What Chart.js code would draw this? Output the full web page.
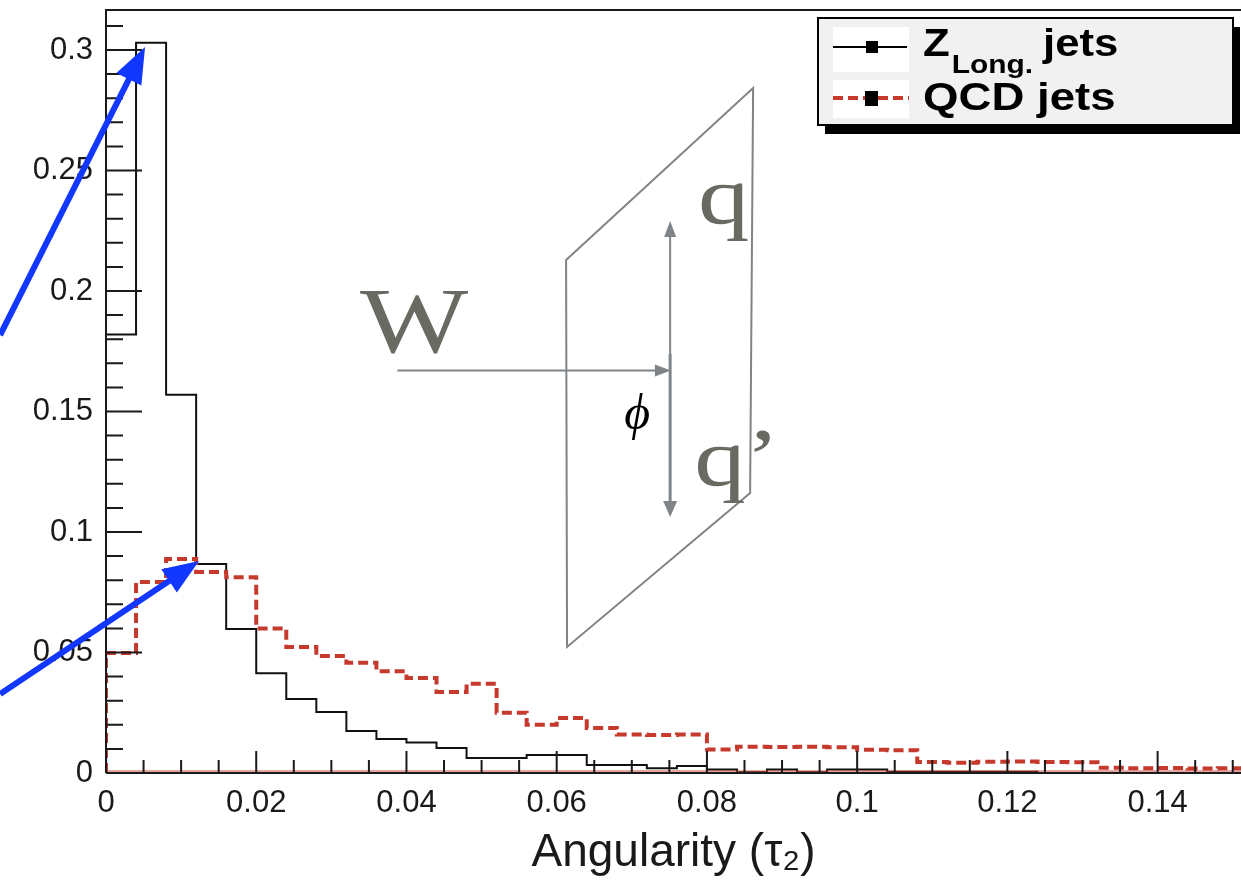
<!DOCTYPE html>
<html>
<head>
<meta charset="utf-8">
<title>Angularity tau2</title>
<script src="https://cdn.jsdelivr.net/npm/chart.js@4.4.1/dist/chart.umd.min.js"></script>
<style>
  body { margin: 0; background: #fff; }
  #wrap { width: 1241px; height: 883px; }
</style>
</head>
<body>
<div id="wrap"><canvas id="tauChart" width="1241" height="883"></canvas></div>
<script>
// histogram bins start at 0, each 0.004 wide
const binWidth = 0.004;

const zLongJets = [
  0.182, 0.303, 0.157, 0.0867, 0.0598, 0.0414, 0.0307, 0.0253, 0.0174, 0.0141,
  0.0127, 0.0104, 0.0062, 0.0062, 0.0075, 0.0075, 0.0033, 0.0033, 0.0020, 0.0029,
  0.0015, 0.0003, 0.0015, 0.0003, 0.0015, 0.0015, 0.0005, 0.0005, 0.0005, 0.0005,
  0.0005, 0, 0, 0, 0, 0, 0, 0
];

const qcdJets = [
  0.0498, 0.0793, 0.0888, 0.0834, 0.0812, 0.0600, 0.0523, 0.0485, 0.0457, 0.0422,
  0.0394, 0.0336, 0.0370, 0.0250, 0.0200, 0.0228, 0.0187, 0.0160, 0.0158, 0.0160,
  0.0097, 0.0109, 0.0108, 0.0109, 0.0107, 0.0096, 0.0094, 0.0046, 0.0043, 0.0047,
  0.0048, 0.0046, 0.0045, 0.0022, 0.0020, 0.0021, 0.0019, 0.0020
];

const xTickValues = [0, 0.02, 0.04, 0.06, 0.08, 0.1, 0.12, 0.14];
const xTickLabels = ["0", "0.02", "0.04", "0.06", "0.08", "0.1", "0.12", "0.14"];
const yTickValues = [0, 0.05, 0.1, 0.15, 0.2, 0.25, 0.3];
const yTickLabels = ["0", "0.05", "0.1", "0.15", "0.2", "0.25", "0.3"];

const xTitle = "Angularity (τ₂)";

const RED = "#c63a2e";
const GRAY = "#7f8488";
const TEXT_GRAY = "#6a6a63";
const BLUE = "#1238ff";

// points at bin edges, drawn as a step line
function toSteps(values) {
  const pts = [{ x: 0, y: 0 }];
  values.forEach((v, i) => pts.push({ x: i * binWidth, y: v }));
  pts.push({ x: values.length * binWidth, y: values[values.length - 1] });
  return pts;
}

// sketch of the W -> q q' decay plane, in data coordinates
const plane = [[0.06125, 0.2129], [0.08615, 0.2842], [0.08575, 0.1162], [0.06138, 0.0523]];
const wArrow = { x0: 0.0388, x1: 0.0752, y: 0.1670 };
const qArrow = { x: 0.0751, yTop: 0.2290, yBottom: 0.1062, yThick: 0.1739 };
// blue pointers to the two peaks
const pointers = [
  { x0: -0.0141, y0: 0.1817, x1: 0.0052, y1: 0.3012 },
  { x0: -0.0141, y0: 0.0328, x1: 0.01238, y1: 0.0880 }
];

function arrowHead(ctx, x0, y0, x1, y1, len, half) {
  const a = Math.atan2(y1 - y0, x1 - x0);
  const c = Math.cos(a), s = Math.sin(a);
  ctx.beginPath();
  ctx.moveTo(x1, y1);
  ctx.lineTo(x1 - len * c + half * s, y1 - len * s - half * c);
  ctx.lineTo(x1 - len * c - half * s, y1 - len * s + half * c);
  ctx.closePath();
  ctx.fill();
}

function arrow(ctx, x0, y0, x1, y1, width, len, half, color) {
  const a = Math.atan2(y1 - y0, x1 - x0);
  ctx.strokeStyle = color;
  ctx.fillStyle = color;
  ctx.lineWidth = width;
  ctx.beginPath();
  ctx.moveTo(x0, y0);
  ctx.lineTo(x1 - len * 0.7 * Math.cos(a), y1 - len * 0.7 * Math.sin(a));
  ctx.stroke();
  arrowHead(ctx, x0, y0, x1, y1, len, half);
}

function scaledText(ctx, text, x, y, sx) {
  ctx.save();
  ctx.translate(x, y);
  ctx.scale(sx, 1);
  ctx.fillText(text, 0, 0);
  const w = ctx.measureText(text).width * sx;
  ctx.restore();
  return w;
}

const rootStyle = {
  id: "rootStyle",
  afterDatasetsDraw(chart) {
    const ctx = chart.ctx;
    const { left, top, right, bottom } = chart.chartArea;
    const xs = chart.scales.x, ys = chart.scales.y;
    ctx.save();
    // faint red line of the empty QCD bins along the axis
    ctx.strokeStyle = "rgba(198,58,46,0.45)";
    ctx.lineWidth = 2;
    ctx.beginPath();
    ctx.moveTo(left, bottom - 2);
    ctx.lineTo(right, bottom - 2);
    ctx.stroke();

    ctx.strokeStyle = "#1a1a1a";
    ctx.lineWidth = 2;
    ctx.beginPath();
    ctx.moveTo(left, bottom);
    ctx.lineTo(left, top);
    ctx.lineTo(right, top);
    ctx.moveTo(left, bottom);
    ctx.lineTo(right, bottom);
    ctx.stroke();

    // inward ticks, major and minor
    ctx.beginPath();
    for (let k = 0; k * 0.01 <= ys.max + 1e-9; k++) {
      const p = ys.getPixelForValue(k * 0.01);
      const len = k % 5 === 0 ? 36 : 17;
      ctx.moveTo(left, p);
      ctx.lineTo(left + len, p);
    }
    for (let k = 1; k * 0.005 <= xs.max + 1e-9; k++) {
      const p = xs.getPixelForValue(k * 0.005);
      const len = k % 4 === 0 ? 22 : 13;
      ctx.moveTo(p, bottom);
      ctx.lineTo(p, bottom - len);
    }
    ctx.stroke();
    ctx.restore();
  },
  afterDraw(chart) {
    const ctx = chart.ctx;
    const X = v => chart.scales.x.getPixelForValue(v);
    const Y = v => chart.scales.y.getPixelForValue(v);
    const area = chart.chartArea;
    ctx.save();

    // decay plane
    ctx.strokeStyle = GRAY;
    ctx.lineWidth = 2;
    ctx.beginPath();
    plane.forEach((c, i) => {
      if (i === 0) ctx.moveTo(X(c[0]), Y(c[1]));
      else ctx.lineTo(X(c[0]), Y(c[1]));
    });
    ctx.closePath();
    ctx.stroke();

    arrow(ctx, X(wArrow.x0), Y(wArrow.y), X(wArrow.x1), Y(wArrow.y), 2, 16, 6, GRAY);
    arrow(ctx, X(qArrow.x), Y(qArrow.yThick), X(qArrow.x), Y(qArrow.yTop), 2, 16, 6, GRAY);
    arrow(ctx, X(qArrow.x), Y(qArrow.yThick), X(qArrow.x), Y(qArrow.yBottom), 3, 16, 7, GRAY);

    ctx.fillStyle = TEXT_GRAY;
    ctx.textBaseline = "alphabetic";
    ctx.textAlign = "left";
    ctx.font = '94px "Liberation Serif"';
    scaledText(ctx, "W", X(0.0338), Y(0.1747), 1.22);
    ctx.font = '82px "Liberation Serif"';
    scaledText(ctx, "q", X(0.0788), Y(0.2282), 1.25);
    scaledText(ctx, "q’", X(0.0783), Y(0.1195), 1.25);
    ctx.fillStyle = "#000";
    ctx.font = 'italic 50px "Liberation Serif"';
    ctx.textAlign = "center";
    ctx.textBaseline = "middle";
    ctx.fillText("ϕ", X(0.0707), Y(0.1480));

    // legend box
    const bx = 818, by = area.top + 8, bw = 415, bh = 107;
    ctx.fillStyle = "#000";
    ctx.fillRect(bx + 7, by + 9, bw, bh);
    ctx.fillStyle = "#f1f1f1";
    ctx.fillRect(bx, by, bw, bh);
    ctx.strokeStyle = "#000";
    ctx.lineWidth = 2;
    ctx.strokeRect(bx, by, bw, bh);
    ctx.fillStyle = "#fff";
    ctx.fillRect(bx + 15, by + 9, 76, 45);
    ctx.fillRect(bx + 15, by + 62, 76, 38);

    ctx.strokeStyle = "#000";
    ctx.lineWidth = 2;
    ctx.beginPath();
    ctx.moveTo(bx + 15, by + 29);
    ctx.lineTo(bx + 89, by + 29);
    ctx.stroke();
    ctx.fillStyle = "#000";
    ctx.fillRect(bx + 48, by + 23, 12, 12);

    ctx.strokeStyle = RED;
    ctx.lineWidth = 4;
    ctx.setLineDash([10, 5]);
    ctx.beginPath();
    ctx.moveTo(bx + 15, by + 80);
    ctx.lineTo(bx + 91, by + 80);
    ctx.stroke();
    ctx.setLineDash([]);
    ctx.fillStyle = "#000";
    ctx.fillRect(bx + 47, by + 73, 13, 15);

    ctx.fillStyle = "#000";
    ctx.textAlign = "left";
    ctx.textBaseline = "alphabetic";
    ctx.font = 'bold 38px "Liberation Sans"';
    let tx = bx + 105;
    tx += scaledText(ctx, "Z", tx, by + 38, 1.15);
    ctx.font = 'bold 26px "Liberation Sans"';
    tx += scaledText(ctx, "Long.", tx + 2, by + 55, 1.15) + 12;
    ctx.font = 'bold 38px "Liberation Sans"';
    scaledText(ctx, "jets", tx, by + 38, 1.15);
    scaledText(ctx, "QCD jets", bx + 105, by + 92, 1.2);

    // blue pointers
    pointers.forEach(p => {
      arrow(ctx, X(p.x0), Y(p.y0), X(p.x1), Y(p.y1), 6, 36, 14, BLUE);
    });
    ctx.restore();
  }
};

const ctx = document.getElementById("tauChart").getContext("2d");

const tauChart = new Chart(ctx, {
  type: "line",
  data: {
    datasets: [
      {
        label: "Z Long. jets",
        data: toSteps(zLongJets),
        borderColor: "#111",
        borderWidth: 2,
        stepped: "before",
        pointRadius: 0,
        fill: false,
        order: 2
      },
      {
        label: "QCD jets",
        data: toSteps(qcdJets),
        borderColor: RED,
        borderWidth: 4,
        borderDash: [10, 5],
        stepped: "before",
        pointRadius: 0,
        fill: false,
        order: 1
      }
    ]
  },
  options: {
    responsive: false,
    animation: false,
    layout: { padding: { top: 10, right: 0, left: 0, bottom: 0 } },
    plugins: {
      legend: { display: false },
      tooltip: { enabled: false }
    },
    scales: {
      x: {
        type: "linear",
        min: 0,
        max: 0.1511,
        grid: { display: false, drawTicks: false },
        border: { display: false },
        afterBuildTicks: scale => { scale.ticks = xTickValues.map(v => ({ value: v })); },
        afterFit: scale => {
          scale.height = 110;
          scale.paddingLeft = 0;
          scale.paddingRight = 0;
        },
        ticks: {
          autoSkip: false,
          maxRotation: 0,
          padding: 12,
          color: "#1a1a1a",
          font: { family: "Liberation Sans", size: 31 },
          callback: (value, index) => xTickLabels[index]
        },
        title: {
          display: true,
          text: xTitle,
          color: "#1a1a1a",
          font: { family: "Liberation Sans", size: 46 },
          padding: { top: 0, bottom: 2 }
        }
      },
      y: {
        min: 0,
        max: 0.3166,
        grid: { display: false, drawTicks: false },
        border: { display: false },
        afterBuildTicks: scale => { scale.ticks = yTickValues.map(v => ({ value: v })); },
        afterFit: scale => {
          scale.width = 106;
          scale.paddingTop = 0;
          scale.paddingBottom = 0;
        },
        ticks: {
          padding: 13,
          color: "#1a1a1a",
          font: { family: "Liberation Sans", size: 31 },
          callback: (value, index) => yTickLabels[index]
        }
      }
    }
  },
  plugins: [rootStyle]
});
</script>
</body>
</html>
